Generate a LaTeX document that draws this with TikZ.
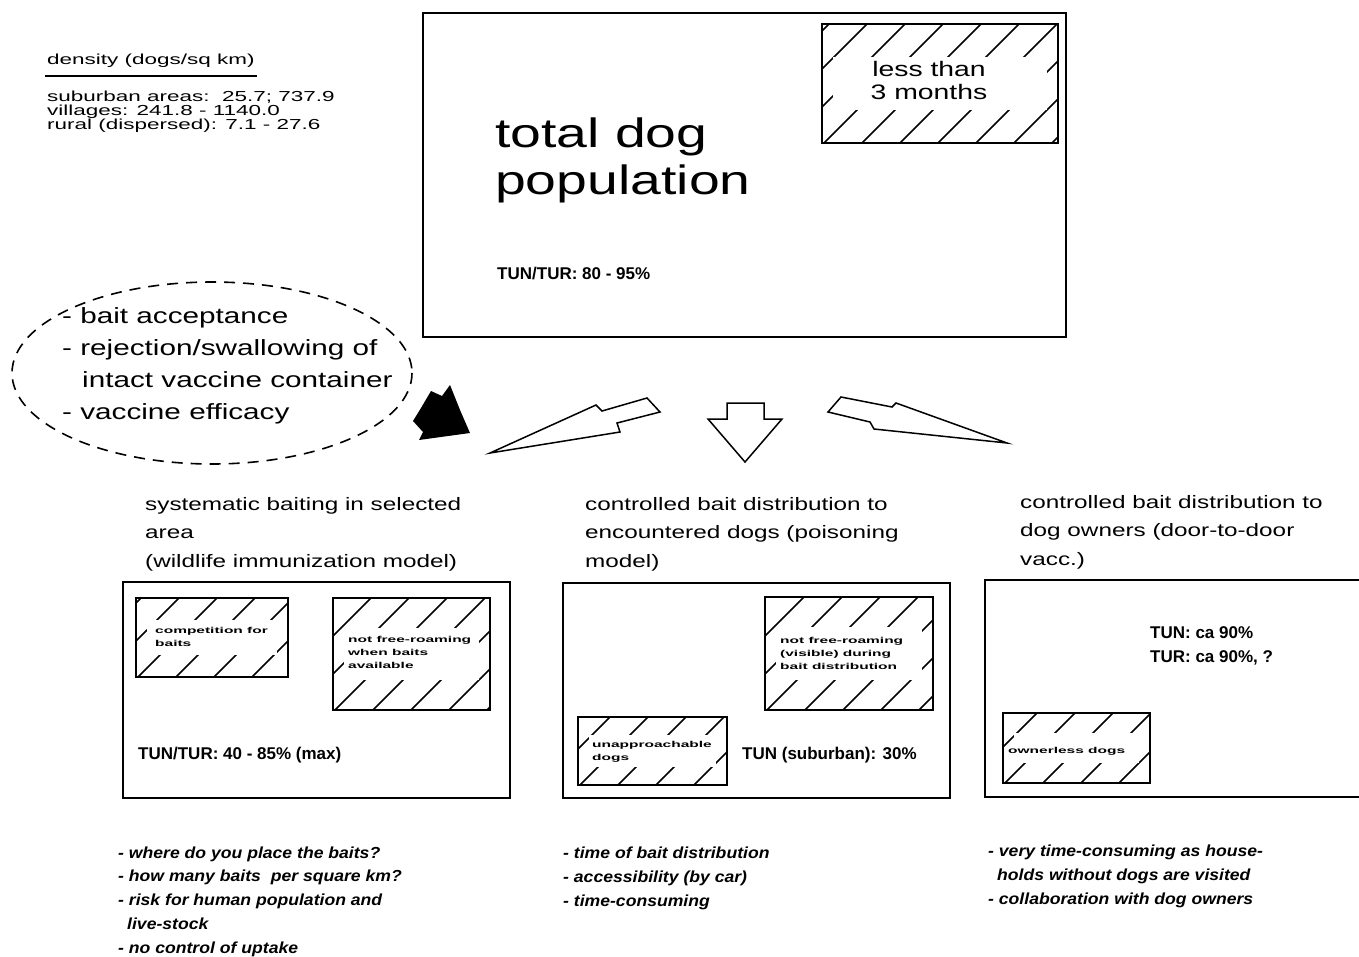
\documentclass[tikz,border=0pt]{standalone}
\usepackage{fontspec}
\setmainfont[FakeStretch=1.35]{Liberation Sans}
\newfontfamily\tunfont{Liberation Sans}
\newfontfamily\hatchfont[FakeStretch=1.8]{Liberation Sans}
\newfontfamily\notefont[FakeStretch=1.1]{Liberation Sans}
\newfontfamily\densfont[FakeStretch=1.55]{Liberation Sans}
\newcommand{\tightlines}{\setlength{\lineskiplimit}{-20pt}}

% hatched box: x1, y1, x2, y2, thickness of the hatched bands
\newcommand{\hatchbox}[5]{%
  \begin{scope}
    \clip (#1,#2) rectangle (#3,#4);
    \foreach \s in {-150,-112,...,300}
      \draw[hatchline] ({#1+\s},#4) -- ++(150,-150);
  \end{scope}
  \fill[white] ({#1+11},{#2+#5}) rectangle ({#3-11},{#4-#5});
  \draw[box] (#1,#2) rectangle (#3,#4);
}

\begin{document}
\begin{tikzpicture}[x=1pt,y=-1pt,
    box/.style={line width=1.6pt},
    hatchline/.style={line width=1.5pt},
    txt/.style={anchor=base west, inner sep=0pt},
    dens/.style={txt, font=\densfont\fontsize{14.5}{14}\selectfont\tightlines, align=left},
    title/.style={txt, font=\fontsize{18}{28.5}\selectfont, align=left},
    tun/.style={txt, font=\tunfont\bfseries\fontsize{17}{24}\selectfont, align=left},
    tiny/.style={txt, font=\hatchfont\bfseries\fontsize{8.6}{13}\selectfont, align=left},
    note/.style={txt, font=\notefont\bfseries\itshape\fontsize{16}{23.7}\selectfont, align=left}]
  \useasboundingbox (0,0) rectangle (1359,956);
  % multi-line texts are placed by the baseline of their last line

  % density
  \node[dens] (densitle) at (47,64) {density (dogs/sq km)};
  \draw[line width=1.6pt] (45,76) -- (257,76);
  \node[dens] (denslist) at (47,129)
    {suburban areas:\ \ 25.7; 737.9\\villages: 241.8 - 1140.0\\rural (dispersed): 7.1 - 27.6};

  % total population
  \draw[box] (423,13) rectangle (1066,337);
  \hatchbox{822}{24}{1058}{143}{33}
  \node[txt, font=\fontsize{21}{23}\selectfont, align=center, anchor=base] (young) at (929,99)
    {less than\\3 months};
  \node[txt, font=\fontsize{41}{47}\selectfont, align=left] (total) at (495,194)
    {total dog\\population};
  \node[tun] (tuntop) at (497,279) {TUN/TUR: 80 - 95\%};

  % factors
  \draw[line width=1.6pt, dash pattern=on 11pt off 8pt] (212,373) ellipse (200 and 91);
  \node[txt, font=\fontsize{22}{31.7}\selectfont, align=left] (factors) at (62,419)
    {- bait acceptance\\- rejection/swallowing of\\\hspace*{20pt}intact vaccine container\\- vaccine efficacy};
  \fill (431,391) -- (442,396) -- (450,385) -- (460,410) -- (470,433) -- (419,440)
    -- (423,432) -- (413,421) -- (421,408) -- cycle;

  % arrows
  \draw[line width=1.5pt, line join=miter] (490,453) -- (596,405) -- (602,411) -- (647,398)
    -- (660,412) -- (617,423) -- (620,432) -- cycle;
  \draw[line width=1.5pt, line join=miter] (727,403) -- (764,403) -- (764,419) -- (782,419)
    -- (745,462) -- (708,419) -- (727,419) -- cycle;
  \draw[line width=1.5pt, line join=miter] (841,397) -- (892,407) -- (896,403) -- (1007,443)
    -- (874,429) -- (870,422) -- (828,412) -- cycle;

  % strategies
  \node[title] (sys) at (145,567)
    {systematic baiting in selected\\area\\(wildlife immunization model)};
  \node[title] (poi) at (585,567)
    {controlled bait distribution to\\encountered dogs (poisoning\\model)};
  \node[title] (own) at (1020,565)
    {controlled bait distribution to\\dog owners (door-to-door\\vacc.)};

  % box 1
  \draw[box] (123,582) rectangle (510,798);
  \hatchbox{136}{598}{288}{677}{22}
  \node[tiny] (comp) at (155,646) {competition for\\baits};
  \hatchbox{333}{598}{490}{710}{30}
  \node[tiny] (notfree) at (348,668) {not free-roaming\\when baits\\available};
  \node[tun] (tunsys) at (138,759) {TUN/TUR: 40 - 85\% (max)};

  % box 2
  \draw[box] (563,583) rectangle (950,798);
  \hatchbox{765}{597}{933}{710}{30}
  \node[tiny] (notvis) at (780,669) {not free-roaming\\(visible) during\\bait distribution};
  \hatchbox{578}{717}{727}{785}{18}
  \node[tiny] (unappr) at (592,760) {unapproachable\\dogs};
  \node[tun] (tunpoi) at (742,759) {TUN (suburban): 30\%};

  % box 3
  \draw[box] (1359,580) -- (985,580) -- (985,797) -- (1359,797);
  \hatchbox{1003}{713}{1150}{783}{20}
  \node[tiny] (ownerless) at (1008,753) {ownerless dogs};
  \node[tun] (tunown) at (1150,662) {TUN: ca 90\%\\TUR: ca 90\%, ?};

  % remarks
  \node[note] (rem1) at (118,953)
    {- where do you place the baits?\\- how many baits\ \ per square km?\\- risk for human population and\\\hspace*{9pt}live-stock\\- no control of uptake};
  \node[note] (rem2) at (563,906)
    {- time of bait distribution\\- accessibility (by car)\\- time-consuming};
  \node[note] (rem3) at (988,904)
    {- very time-consuming as house-\\\hspace*{9pt}holds without dogs are visited\\- collaboration with dog owners};
\end{tikzpicture}
\end{document}
